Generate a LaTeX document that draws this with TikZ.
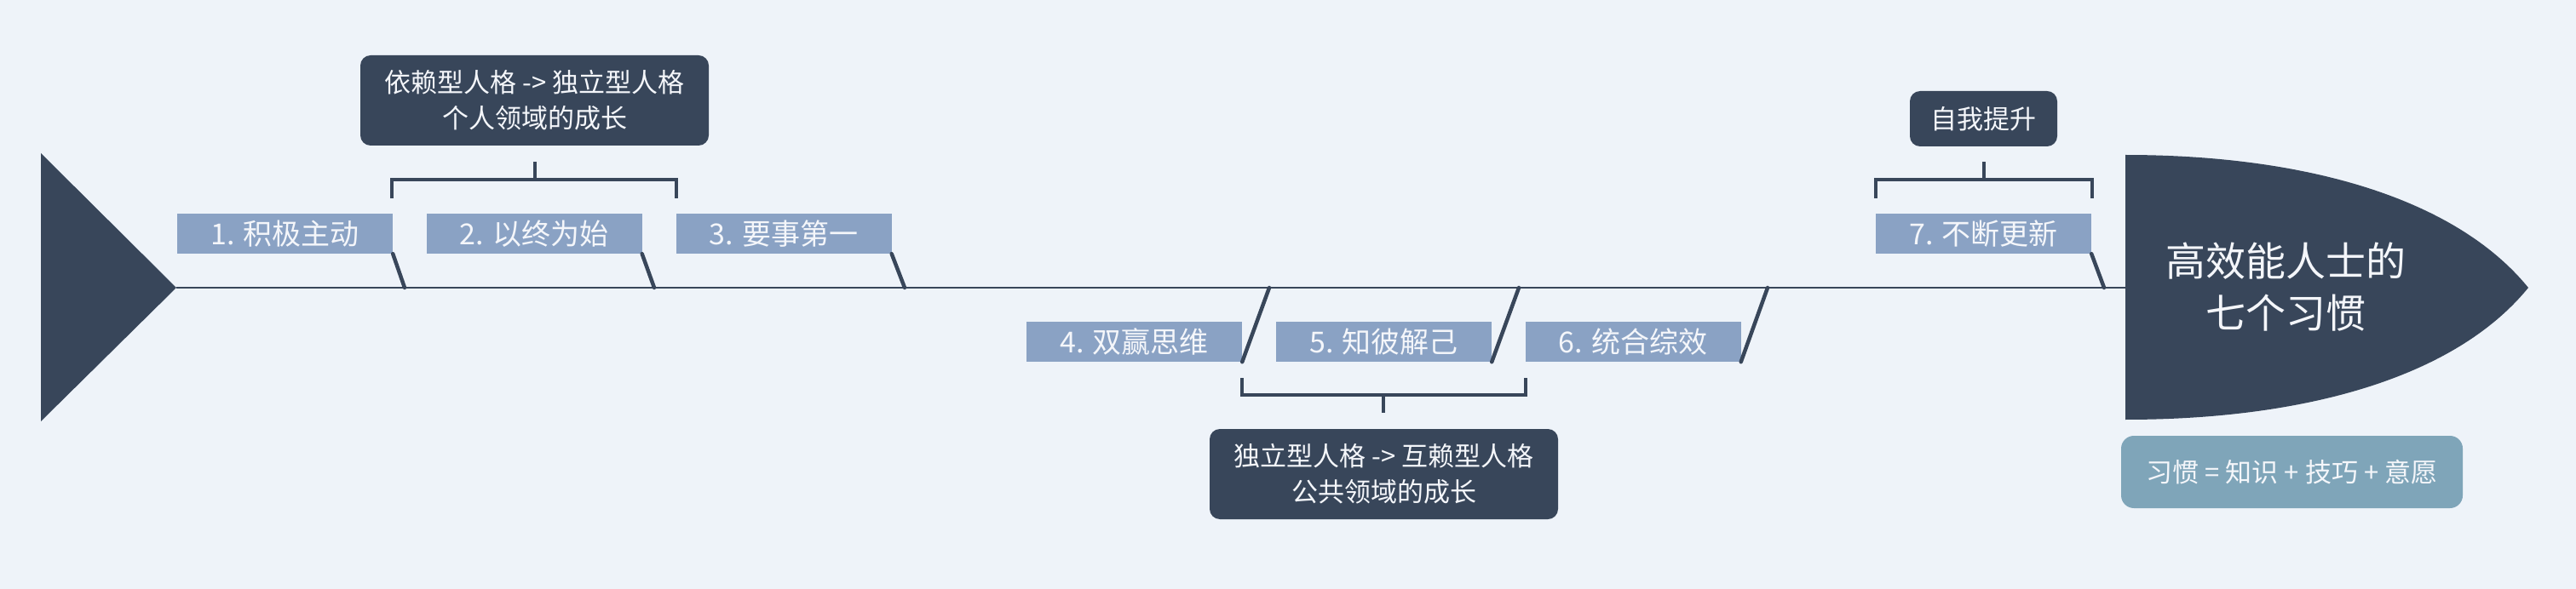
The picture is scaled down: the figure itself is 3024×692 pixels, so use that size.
\documentclass[tikz,border=0pt]{standalone}
\usepackage{fontspec}
\setmainfont{Noto Sans CJK SC}
\definecolor{bgc}{HTML}{EEF3F9}
\definecolor{darkc}{HTML}{38465A}
\definecolor{boxc}{HTML}{8AA2C4}
\definecolor{notec}{HTML}{7FA5B9}
\definecolor{txtc}{HTML}{F4F6FA}
\tikzset{
  habit/.style={rectangle, fill=boxc, text=txtc, inner sep=0pt,
    minimum width=253pt, minimum height=47pt,
    font=\fontsize{34}{40}\selectfont},
  group/.style={rectangle, rounded corners=12pt, fill=darkc, text=txtc,
    inner sep=0pt, align=center, font=\fontsize{31}{42}\selectfont},
  bone/.style={draw=darkc, line width=4.5pt, line cap=round},
  brace/.style={draw=darkc, line width=4pt},
  spine/.style={draw=darkc, line width=2.5pt}
}
\begin{document}
\begin{tikzpicture}[x=1pt,y=-1pt]
\useasboundingbox (0,0) rectangle (3024,692);
\fill[bgc] (0,0) rectangle (3024,692);
% tail triangle
\fill[darkc] (48,180) -- (207,338) -- (48,495) -- cycle;
\coordinate (tail) at (207,338);
% head
\fill[darkc] (2495,182) .. controls (2700,182) and (2880,230) .. (2968,338)
  .. controls (2880,446) and (2700,493) .. (2495,493) -- cycle;
\coordinate (headL) at (2495,338);
\node[text=txtc, align=center, font=\fontsize{47}{61}\selectfont] (title) at (2683,337.5) {高效能人士的\\七个习惯};
% spine
\draw[spine] (tail) -- (headL);
% habit boxes
\node[habit] (h1) at (334.5,274.5) {1. 积极主动};
\node[habit] (h2) at (627,274.5) {2. 以终为始};
\node[habit] (h3) at (920,274.5) {3. 要事第一};
\node[habit] (h4) at (1331.5,401.5) {4. 双赢思维};
\node[habit] (h5) at (1624.5,401.5) {5. 知彼解己};
\node[habit] (h6) at (1917,401.5) {6. 统合综效};
\node[habit] (h7) at (2328.5,274.5) {7. 不断更新};
% spine points
\coordinate (s1) at (475,338);
\coordinate (s2) at (768,338);
\coordinate (s3) at (1062,338);
\coordinate (s4) at (1490,338);
\coordinate (s5) at (1783,338);
\coordinate (s6) at (2075,338);
\coordinate (s7) at (2470,338);
\draw[bone] (h1.south east) -- (s1);
\draw[bone] (h2.south east) -- (s2);
\draw[bone] (h3.south east) -- (s3);
\draw[bone] (h4.south east) -- (s4);
\draw[bone] (h5.south east) -- (s5);
\draw[bone] (h6.south east) -- (s6);
\draw[bone] (h7.south east) -- (s7);
% group boxes
\node[group, minimum width=409pt, minimum height=106pt] (g1) at (627.5,118) {依赖型人格 -> 独立型人格\\个人领域的成长};
\node[group, minimum width=409pt, minimum height=106pt] (g2) at (1624.5,557) {独立型人格 -> 互赖型人格\\公共领域的成长};
\node[group, minimum width=173pt, minimum height=65pt] (g3) at (2328.5,139.5) {自我提升};
% brackets
\coordinate (b1) at (628,211);
\coordinate (b1s) at (628,190);
\coordinate (b1l) at (460,233);
\coordinate (b1r) at (794,233);
\draw[brace] (b1l) |- (b1) -| (b1r);
\draw[brace] (b1) -- (b1s);
\coordinate (b2) at (1624,464);
\coordinate (b2s) at (1624,485);
\coordinate (b2l) at (1458,444);
\coordinate (b2r) at (1791,444);
\draw[brace] (b2l) |- (b2) -| (b2r);
\draw[brace] (b2) -- (b2s);
\coordinate (b3) at (2329,211);
\coordinate (b3s) at (2329,190);
\coordinate (b3l) at (2202,233);
\coordinate (b3r) at (2456,233);
\draw[brace] (b3l) |- (b3) -| (b3r);
\draw[brace] (b3) -- (b3s);
% note
\node[rectangle, rounded corners=15pt, fill=notec, text=txtc, inner sep=0pt,
  minimum width=401pt, minimum height=85pt, font=\fontsize{31}{40}\selectfont]
  (note) at (2690.5,554.5) {习惯 = 知识 + 技巧 + 意愿};
\end{tikzpicture}
\end{document}
